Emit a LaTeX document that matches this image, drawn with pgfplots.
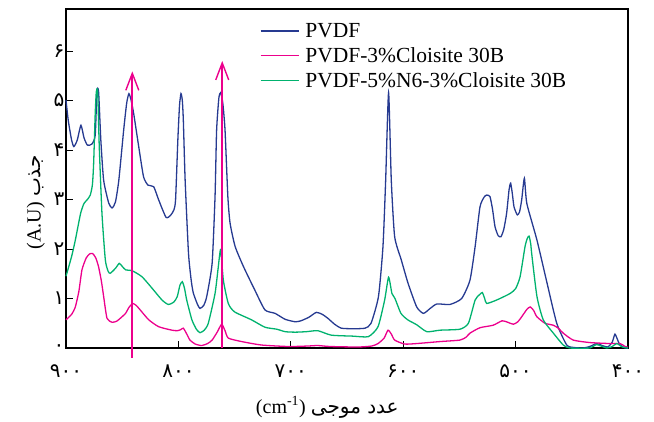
\documentclass[border=0pt]{standalone}
\usepackage{fontspec}
\setmainfont{Liberation Serif}
\newfontfamily\arabicfont[Script=Arabic]{DejaVu Sans}
\TeXXeTstate=1
\usepackage{pgfplots}
\pgfplotsset{compat=1.18}
\usetikzlibrary{arrows.meta}
\definecolor{pvdfblue}{RGB}{38,58,145}
\definecolor{pvdfpink}{RGB}{236,0,140}
\definecolor{pvdfgreen}{RGB}{0,178,110}
\begin{document}
\begin{tikzpicture}
\begin{axis}[
  scale only axis,
  width=562pt, height=339pt,
  x dir=reverse,
  xmin=400, xmax=900, ymin=0, ymax=6.85,
  clip=false,
  axis line style={line width=2.3pt},
  tick align=inside,
  xtick pos=bottom, ytick pos=left,
  major tick length=7pt,
  tick style={line width=1pt, black},
  xtick={400,500,600,700,800,900},
  xticklabels={۴۰۰,۵۰۰,۶۰۰,۷۰۰,۸۰۰,۹۰۰},
  ytick={0,1,2,3,4,5,6},
  yticklabels={۰,۱,۲,۳,۴,۵,۶},
  ticklabel style={font=\fontsize{20}{22}\selectfont\arabicfont},
  xticklabel style={yshift=-13pt},
  yticklabel style={xshift=2pt},
  xlabel={\fontsize{20}{24}\selectfont (cm\textsuperscript{-1}) {\arabicfont\beginR عدد موجی\endR}},
  xlabel style={at={(ticklabel cs:0.465)}, yshift=-12pt},
  ylabel={\fontsize{20}{24}\selectfont (A.U) {\arabicfont\beginR جذب\endR}},
  ylabel style={at={(ticklabel cs:0.43)}, yshift=2pt},
  legend style={draw=none, fill=none, at={(axis description cs:0.339,0.97)}, anchor=north west,
    font=\fontsize{21.5}{24}\selectfont, row sep=4.5pt,
    /tikz/column 1/.style={column sep=4pt}},
  legend cell align=left,
  every axis plot/.append style={line width=1.3pt, smooth, tension=0.35},
]
\addlegendimage{pvdfblue, line width=1.6pt, legend image code/.code={\draw[pvdfblue, line width=1.6pt] (0pt,0pt) -- (38pt,0pt);}}
\addlegendentry{PVDF}
\addlegendimage{pvdfpink, line width=1.6pt, legend image code/.code={\draw[pvdfpink, line width=1.6pt] (0pt,0pt) -- (38pt,0pt);}}
\addlegendentry{PVDF-3\%Cloisite 30B}
\addlegendimage{pvdfgreen, line width=1.6pt, legend image code/.code={\draw[pvdfgreen, line width=1.6pt] (0pt,0pt) -- (38pt,0pt);}}
\addlegendentry{PVDF-5\%N6-3\%Cloisite 30B}
\addplot[pvdfblue, forget plot] coordinates {
(900,5.01) (898,4.6) (895,4.2) (893,4.07) (890,4.2) (886.7,4.5) (884,4.25) (881,4.1)
(877,4.12) (874,4.3) (872.5,5.18) (871,5.18) (869,4.2) (866.5,3.39) (862,2.93) (859,2.83)
(856,2.95) (853,3.39) (848.7,4.4) (846,4.95) (844,5.14) (842,5.0) (839.8,4.74) (835.3,4.07)
(831,3.46) (827,3.29) (822,3.26) (817.5,2.99) (811,2.64) (807,2.68) (804,2.79) (802.5,3.0)
(800.5,4.2) (799,4.9) (797.7,5.14) (796.5,5.0) (795.6,4.6) (794,3.39) (791,1.91) (788.5,1.35)
(786.7,1.11) (783,0.88) (780.8,0.80) (777.5,0.86) (774.8,1.04) (770,1.71) (767.4,3.06)
(766,4.4) (764,5.05) (762.4,5.16) (760.5,4.95) (758.5,4.4) (756,3.06) (754,2.52) (749.5,2.05)
(742,1.64) (732,1.17) (723,0.77) (714,0.70) (705,0.58) (696,0.53) (691,0.55) (684,0.62)
(677.3,0.72) (672,0.68) (667,0.6) (661,0.48) (655,0.40) (645,0.39) (634,0.40) (628.6,0.5)
(622,1.04) (618,2.05) (615.6,3.39) (613,5.16) (610.6,3.39) (607.6,2.25) (601.7,1.78)
(595.7,1.31) (588,0.83) (582,0.70) (576,0.8) (570,0.89) (558.4,0.88) (548,1.0) (540.6,1.37)
(536,2.05) (531.7,2.85) (528,3.05) (525.7,3.09) (522.8,3.06) (520.5,2.8) (518.3,2.45)
(515.5,2.27) (513,2.25) (510.5,2.4) (508,2.72) (505.8,3.2) (504.4,3.33) (502.8,3.1)
(501.4,2.85) (498.5,2.69) (496.5,2.75) (494.6,2.99) (492.2,3.43) (490,2.92) (481,2.18)
(472,1.31) (463.4,0.50) (454.5,0.06) (448,0.01) (440,0) (434,0.03) (428,0.09) (423,0.05)
(418,0.02) (414,0.12) (411.6,0.28) (409,0.15) (407,0.06) (402.6,0) (400,0)
};
\addplot[pvdfpink, forget plot] coordinates {
(900,0.57) (895,0.68) (891.7,0.83) (888.5,1.15) (885.8,1.58) (882,1.82) (879,1.9) (876.3,1.91)
(873.5,1.82) (871,1.64) (868.5,1.35) (866.5,1.04) (863.5,0.60) (859,0.52) (855,0.54)
(851.7,0.60) (847,0.70) (844,0.82) (840.7,0.90) (837.5,0.86) (834,0.77) (826.4,0.57)
(817.5,0.43) (805.7,0.36) (801,0.35) (798,0.37) (795.6,0.40) (792.5,0.28) (789.7,0.16)
(785,0.08) (779.3,0.05) (774,0.09) (770,0.16) (765.5,0.32) (761.5,0.48) (758.5,0.35)
(755.6,0.20) (743.7,0.13) (726,0.06) (702,0.03) (685,0.04) (676,0.05) (665,0.03) (640,0.02)
(628,0.04) (622.4,0.09) (617,0.2) (613.5,0.36) (610.5,0.28) (607.6,0.16) (598.7,0.08)
(588,0.09) (567.3,0.13) (549.5,0.16) (544,0.22) (540.6,0.30) (531.7,0.41) (520,0.46)
(512,0.55) (507,0.52) (502,0.48) (498,0.53) (494.6,0.63) (490,0.78) (487,0.83) (484,0.76)
(481,0.63) (473.8,0.50) (466.4,0.46) (462,0.4) (457.6,0.30) (448.7,0.16) (434,0.11)
(416,0.09) (407,0.09) (402.6,0.03) (400,0.02)
};
\addplot[pvdfgreen, forget plot] coordinates {
(900,1.45) (895,1.85) (891.7,2.18) (887,2.72) (884,2.92) (881,3.0) (878.4,3.09) (876.5,3.3)
(875.4,3.73) (874,4.74) (873,5.18) (871.8,5.18) (870.4,4.07) (868,2.72) (865,1.78)
(862.5,1.55) (860.6,1.51) (856,1.61) (852.6,1.71) (850,1.65) (847,1.58) (841,1.56)
(832.4,1.44) (823.5,1.21) (814.6,0.97) (809,0.88) (804,0.93) (801,1.04) (798.6,1.27)
(796.5,1.34) (794.5,1.2) (792.6,0.97) (788,0.57) (784,0.38) (780.8,0.31) (777,0.36)
(773.4,0.50) (767.4,1.10) (764.5,1.64) (762.4,1.99) (760,1.37) (755.6,0.90) (750,0.73)
(735,0.57) (723,0.42) (712.5,0.38) (705,0.33) (696,0.32) (686,0.33) (676,0.35) (664,0.26)
(645,0.24) (631,0.23) (622.4,0.43) (616.5,0.97) (613,1.43) (610,1.1) (607.3,1.0) (602,0.7)
(596,0.57) (588,0.47) (579,0.33) (567.3,0.36) (549.5,0.38) (542,0.50) (536,0.97) (532,1.08)
(529.6,1.12) (527.5,1.0) (525.7,0.90) (516.8,0.97) (505,1.10) (500,1.2) (496,1.44)
(491.6,2.05) (489.5,2.22) (488,2.26) (486.5,2.1) (485.7,1.91) (481,1.04) (475.4,0.57)
(466.4,0.30) (457.6,0.06) (451.6,0) (434,0) (428,0.07) (419,0) (414,0.03) (410,0.09)
(405,0.02) (400,0)
};
\addplot[pvdfpink, line width=1.7pt, sharp plot, -{Straight Barb[length=17pt,width=13pt,line width=1.4pt]}, forget plot]
  coordinates {(841,-0.2) (841,5.59)};
\addplot[pvdfpink, line width=1.7pt, sharp plot, -{Straight Barb[length=17pt,width=13pt,line width=1.4pt]}, forget plot]
  coordinates {(761,0) (761,5.8)};
\end{axis}
\path (current axis.south west) ++(-66pt,-73pt) (current axis.north east) ++(26pt,9pt);
\end{tikzpicture}
\end{document}
